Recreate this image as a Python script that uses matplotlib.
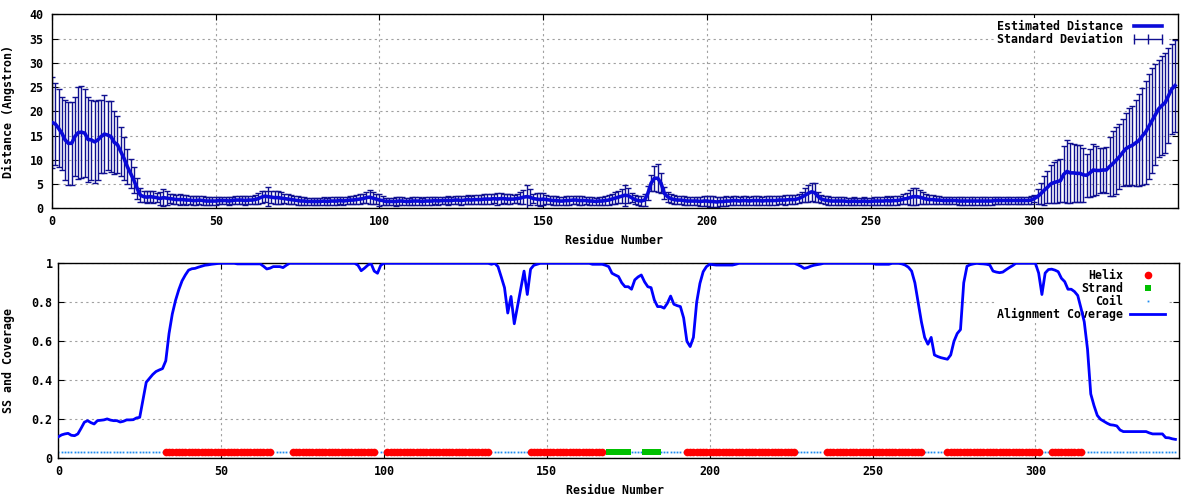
import numpy as np
import matplotlib
matplotlib.use('Agg')
import matplotlib.pyplot as plt
from matplotlib.lines import Line2D

# ---------------- data ----------------
distance = [
    # 0-28
    17.7, 17.4, 16.5, 15.5, 14.1, 13.4, 13.4, 14.8, 15.6, 15.7, 15.5, 14.2, 14.1, 13.7, 14.1,
    14.8, 15.3, 15.1, 14.8, 13.6, 13.1, 11.7, 10.3, 8.6, 7.2, 5.8, 4.1, 2.7, 2.4,
    # 29-62
    2.3, 2.4, 2.3, 2.2, 2.0, 2.2, 2.1, 2.0, 1.9, 1.8, 1.8, 1.8, 1.7, 1.7, 1.6, 1.6, 1.7,
    1.6, 1.5, 1.5, 1.5, 1.5, 1.6, 1.6, 1.6, 1.5, 1.6, 1.7, 1.7, 1.7, 1.6, 1.7, 1.7, 1.8,
    # 63-75
    2.0, 2.3, 2.5, 2.4, 2.3, 2.2, 2.2, 2.1, 2.0, 1.9, 1.8, 1.7, 1.6,
    # 76-92
    1.5, 1.5, 1.4, 1.4, 1.4, 1.4, 1.4, 1.5, 1.4, 1.5, 1.5, 1.5, 1.6, 1.5, 1.6, 1.7, 1.7,
    # 93-101
    1.8, 1.9, 2.0, 2.2, 2.3, 2.1, 1.9, 1.7, 1.6,
    # 102-140
    1.4, 1.4, 1.4, 1.4, 1.5, 1.5, 1.4, 1.4, 1.5, 1.5, 1.5, 1.4, 1.5, 1.5, 1.5, 1.6, 1.5,
    1.6, 1.6, 1.6, 1.6, 1.7, 1.7, 1.6, 1.7, 1.8, 1.7, 1.8, 1.8, 1.8, 1.9, 1.9, 1.9, 2.0,
    1.9, 2.0, 2.0, 1.9, 1.9,
    # 141-150
    1.9, 2.0, 2.1, 2.3, 2.4, 2.3, 2.0, 1.9, 1.8, 1.9,
    # 151-168
    1.8, 1.7, 1.6, 1.6, 1.5, 1.5, 1.6, 1.6, 1.7, 1.7, 1.6, 1.6, 1.6, 1.5, 1.5, 1.4, 1.5, 1.5,
    # 169-181
    1.6, 1.7, 1.9, 2.1, 2.3, 2.5, 2.7, 2.6, 2.2, 1.8, 1.6, 1.5, 1.7,
    # 182-189
    3.1, 5.2, 6.2, 6.2, 5.2, 3.1, 2.4, 2.0,
    # 190-226
    1.8, 1.7, 1.7, 1.6, 1.5, 1.5, 1.5, 1.5, 1.4, 1.5, 1.5, 1.4, 1.4, 1.3, 1.4, 1.4, 1.5,
    1.5, 1.6, 1.6, 1.5, 1.6, 1.6, 1.5, 1.6, 1.6, 1.6, 1.5, 1.6, 1.6, 1.6, 1.6, 1.7, 1.7,
    1.7, 1.8, 1.8,
    # 227-236
    1.8, 2.0, 2.3, 2.7, 3.1, 3.4, 3.2, 2.4, 1.9, 1.7,
    # 237-258
    1.6, 1.5, 1.5, 1.5, 1.5, 1.5, 1.4, 1.4, 1.5, 1.4, 1.4, 1.5, 1.4, 1.4, 1.5, 1.5, 1.5,
    1.5, 1.6, 1.5, 1.6, 1.6,
    # 259-268
    1.7, 1.9, 2.0, 2.2, 2.4, 2.4, 2.3, 2.1, 1.9, 1.8,
    # 269-299
    1.8, 1.7, 1.7, 1.6, 1.6, 1.6, 1.6, 1.6, 1.5, 1.5, 1.5, 1.5, 1.5, 1.5, 1.5, 1.5, 1.5,
    1.5, 1.5, 1.6, 1.6, 1.6, 1.6, 1.6, 1.6, 1.6, 1.6, 1.6, 1.6, 1.6, 1.7,
    # 300-343
    2.0, 2.4, 3.0, 3.7, 4.3, 5.0, 5.3, 5.5, 5.7, 7.0, 7.6, 7.3, 7.3, 7.2, 7.2, 6.9, 6.8,
    7.3, 7.9, 7.8, 7.8, 7.9, 7.9, 8.6, 9.2, 9.9, 10.6, 11.5, 12.3, 12.7, 13.0, 13.5, 14.0,
    14.9, 15.7, 16.9, 18.1, 19.3, 20.5, 21.2, 21.8, 23.2, 24.6, 25.3,
]

std_dev = [
    # 0-28
    9.3, 8.4, 8.0, 7.5, 8.3, 8.5, 8.5, 8.2, 9.5, 9.5, 9.0, 8.7, 8.2, 8.5, 8.2,
    7.5, 8.0, 7.1, 7.3, 6.5, 5.9, 5.0, 4.5, 3.6, 3.0, 2.7, 2.1, 1.4, 1.2,
    # 29-62
    1.2, 1.1, 1.2, 1.0, 1.3, 1.7, 1.4, 1.0, 1.1, 1.0, 1.1, 1.0, 1.0, 0.9, 1.0, 1.0, 0.9,
    0.9, 0.8, 0.9, 0.9, 0.8, 0.8, 0.8, 0.8, 0.9, 0.8, 0.8, 0.8, 0.9, 0.9, 0.9, 0.9, 0.9,
    # 63-75
    1.2, 1.3, 1.1, 2.0, 1.2, 1.4, 1.3, 1.2, 1.0, 1.0, 1.0, 0.9, 0.9,
    # 76-92
    0.8, 0.8, 0.8, 0.8, 0.8, 0.8, 0.8, 0.8, 0.8, 0.8, 0.8, 0.8, 0.8, 0.9, 0.8, 0.8, 0.9,
    # 93-101
    0.9, 1.0, 1.0, 1.1, 1.4, 1.2, 1.0, 1.2, 0.9,
    # 102-140
    0.8, 0.8, 0.8, 0.9, 0.8, 0.8, 0.8, 0.8, 0.8, 0.8, 0.9, 0.8, 0.8, 0.8, 0.8, 0.8, 0.9,
    0.8, 0.8, 0.9, 0.8, 0.9, 0.9, 0.9, 0.9, 0.9, 0.9, 1.0, 0.9, 1.0, 1.0, 1.0, 1.0, 1.0,
    1.2, 1.1, 1.0, 1.0, 1.0,
    # 141-150
    0.9, 1.0, 1.2, 1.5, 2.5, 1.7, 1.0, 1.2, 1.3, 1.2,
    # 151-168
    1.0, 0.9, 0.9, 0.9, 0.8, 0.8, 0.9, 0.9, 0.9, 0.9, 0.9, 0.9, 0.8, 0.8, 0.8, 0.8, 0.8, 0.9,
    # 169-181
    0.9, 1.0, 1.1, 1.2, 1.3, 1.5, 2.2, 1.5, 1.0, 1.0, 1.0, 1.1, 1.2,
    # 182-189
    1.4, 1.6, 2.6, 2.9, 2.1, 1.2, 1.0, 1.0,
    # 190-226
    1.0, 0.9, 0.9, 0.9, 0.9, 0.9, 0.9, 0.9, 1.0, 1.0, 1.1, 1.1, 1.1, 1.1, 1.0, 1.0, 1.0,
    0.9, 0.9, 1.0, 0.9, 0.9, 0.9, 0.9, 0.9, 0.9, 0.9, 0.9, 0.9, 0.9, 0.9, 0.9, 0.9, 0.9,
    1.0, 1.0, 1.0,
    # 227-236
    0.9, 1.0, 1.1, 1.4, 1.7, 1.8, 2.0, 1.0, 0.9, 0.9,
    # 237-258
    0.9, 0.8, 0.8, 0.8, 0.8, 0.8, 0.8, 0.8, 0.8, 0.8, 0.8, 0.8, 0.8, 0.8, 0.8, 0.8, 0.8,
    0.8, 0.9, 0.8, 0.9, 0.9,
    # 259-268
    0.9, 1.0, 1.2, 1.5, 1.7, 1.8, 1.4, 1.2, 1.0, 0.9,
    # 269-299
    0.9, 0.9, 0.8, 0.8, 0.8, 0.8, 0.8, 0.8, 0.8, 0.8, 0.8, 0.8, 0.8, 0.8, 0.8, 0.8, 0.8,
    0.8, 0.8, 0.8, 0.8, 0.8, 0.8, 0.8, 0.8, 0.8, 0.8, 0.8, 0.8, 0.8, 0.8,
    # 300-343
    0.7, 1.5, 2.2, 3.0, 3.3, 4.0, 4.3, 4.4, 4.5, 5.8, 6.5, 6.2, 6.0, 5.9, 5.9, 5.5, 4.4,
    5.0, 5.3, 5.0, 4.7, 4.5, 4.8, 6.0, 6.7, 6.9, 6.7, 7.0, 7.4, 8.0, 8.1, 8.8, 9.5,
    10.0, 10.6, 10.8, 10.9, 10.4, 10.0, 10.2, 10.3, 9.8, 9.2, 9.5,
]

coverage = [
    0.11, 0.12, 0.125, 0.128, 0.118, 0.116, 0.125, 0.154, 0.185, 0.193,
    0.183, 0.176, 0.193, 0.195, 0.197, 0.202, 0.196, 0.193, 0.193, 0.186,
    0.19, 0.197, 0.197, 0.198, 0.207, 0.21, 0.30, 0.39, 0.41, 0.43,
    0.445, 0.453, 0.46, 0.50, 0.64, 0.74, 0.81, 0.865, 0.91, 0.94,
    0.965, 0.972, 0.974, 0.98, 0.985, 0.99, 0.992, 0.995, 0.997, 0.999,
    1, 1, 1, 1, 1, 0.997, 0.997, 0.997, 0.997, 0.997,
    0.997, 0.997, 0.997, 0.985, 0.971, 0.975, 0.983, 0.983, 0.983, 0.978,
    0.99, 1, 1, 1, 1, 1, 1, 1, 1, 1,
    1, 1, 1, 1, 1, 1, 1, 1, 1, 1,
    1, 1, 0.99, 0.962, 0.975, 0.99, 1.0, 0.96, 0.949, 0.99,
    1, 1, 1, 1, 1, 1, 1, 1, 1, 1,
    1, 1, 1, 1, 1, 1, 1, 1, 1, 1,
    1, 1, 1, 1, 1, 1, 1, 1, 1, 1,
    1, 1, 1, 0.995, 1.0, 0.983, 0.93, 0.875, 0.745, 0.83,
    0.69, 0.78, 0.87, 0.96, 0.84, 0.97, 0.99, 0.995, 1, 1,
    1, 1, 1, 1, 1, 1, 1, 1, 1, 1,
    1, 1, 1, 1, 0.995, 0.995, 0.995, 0.995, 0.99, 0.983,
    0.949, 0.94, 0.932, 0.90, 0.88, 0.88, 0.867, 0.915, 0.93, 0.94,
    0.905, 0.88, 0.875, 0.812, 0.778, 0.778, 0.77, 0.795, 0.832, 0.79,
    0.783, 0.778, 0.72, 0.60, 0.573, 0.62, 0.80, 0.897, 0.957, 0.983,
    0.995, 0.993, 0.991, 0.991, 0.991, 0.991, 0.991, 0.991, 0.995, 1,
    1, 1, 1, 1, 1, 1, 1, 1, 1, 1,
    1, 1, 1, 1, 1, 1, 1, 0.993, 0.985, 0.974,
    0.978, 0.985, 0.99, 0.993, 0.996, 1, 1, 1, 1, 1,
    1, 1, 1, 1, 1, 1, 1, 1, 1, 1,
    1, 0.995, 0.995, 0.995, 0.995, 0.995, 1, 1, 1, 0.997,
    0.991, 0.98, 0.96, 0.90, 0.80, 0.70, 0.62, 0.585, 0.62, 0.53,
    0.522, 0.516, 0.512, 0.508, 0.53, 0.60, 0.64, 0.66, 0.90, 0.985,
    0.993, 0.997, 1, 0.998, 0.997, 0.995, 0.991, 0.96, 0.955, 0.952,
    0.955, 0.967, 0.978, 0.988, 1, 1, 1, 1, 1, 1,
    1, 0.95, 0.84, 0.95, 0.968, 0.97, 0.965, 0.957, 0.923, 0.906,
    0.867, 0.867, 0.855, 0.835, 0.77, 0.70, 0.56, 0.33, 0.27, 0.22,
    0.20, 0.19, 0.18, 0.172, 0.17, 0.166, 0.145, 0.137, 0.137, 0.137,
    0.137, 0.137, 0.137, 0.137, 0.137, 0.13, 0.125, 0.125, 0.125, 0.125,
    0.106, 0.105, 0.10, 0.097,
]

helix_segments = [(33, 65), (72, 97), (101, 132), (145, 167), (193, 226),
                  (236, 265), (273, 301), (305, 314)]
strand_segments = [(169, 175), (180, 184)]
ss_level = 0.03

x_ticks = [0, 50, 100, 150, 200, 250, 300]
y_ticks_top = [0, 5, 10, 15, 20, 25, 30, 35, 40]
y_ticks_bottom = [0, 0.2, 0.4, 0.6, 0.8, 1]
y_labels_bottom = ['0', '0.2', '0.4', '0.6', '0.8', '1']

# ---------------- figure ----------------
plt.rcParams['font.family'] = ['DejaVu Sans Mono']
plt.rcParams['font.weight'] = 'bold'
FS = 8.4

LINE_BLUE = '#0a0ad8'
ERR_BLUE = '#101090'
COV_BLUE = '#0000ff'
RED = '#ff0000'
GREEN = '#00c000'
COIL = '#1e8cf0'

fig = plt.figure(figsize=(12, 5), dpi=100)
ax1 = fig.add_axes([52 / 1200, 1 - 208.3 / 500, 1126.3 / 1200, 194 / 500])
ax2 = fig.add_axes([58.3 / 1200, 1 - 458.3 / 500, 1120.4 / 1200, 195 / 500])

grid_kw = dict(color='#a0a0a0', linestyle=(0, (2, 3)), linewidth=0.8)

for ax in (ax1, ax2):
    ax.set_axisbelow(True)
    ax.grid(True, **grid_kw)
    ax.tick_params(direction='in', top=True, right=True, length=4.5, width=0.8,
                   labelsize=FS, colors='black')
    for sp in ax.spines.values():
        sp.set_linewidth(1.0)
        sp.set_color('black')

# ---- top panel ----
res_d = np.arange(len(distance))
ax1.errorbar(res_d, distance, yerr=std_dev, fmt='none', ecolor=ERR_BLUE,
             elinewidth=1.0, capsize=2.3, capthick=1.0, zorder=2)
ax1.plot(res_d, distance, color=LINE_BLUE, lw=2.6, zorder=3)
ax1.set_xlim(0, 344)
ax1.set_ylim(0, 40)
ax1.set_xticks(x_ticks)
ax1.set_yticks(y_ticks_top)
ax1.set_xticklabels([str(t) for t in x_ticks])
ax1.set_yticklabels([str(t) for t in y_ticks_top])
ax1.tick_params(axis='x', pad=5)
ax1.tick_params(axis='y', pad=6)
ax1.set_xlabel('Residue Number', fontsize=FS, fontweight='bold')
ax1.set_ylabel('Distance (Angstron)', fontsize=FS, fontweight='bold')
ax1.xaxis.set_label_coords(0.499, -0.135)
ax1.yaxis.set_label_coords(-0.0325, 0.5)

h_top = [Line2D([], [], color=LINE_BLUE, lw=2.6),
         Line2D([], [], color=ERR_BLUE, lw=1.0, marker='|', markersize=7, mew=1.0)]
leg1 = ax1.legend(h_top, ['Estimated Distance', 'Standard Deviation'],
                  loc='upper right', bbox_to_anchor=(0.9903, 0.983), borderaxespad=0,
                  markerfirst=False, numpoints=3, frameon=True, framealpha=1,
                  facecolor='white', edgecolor='none', fancybox=False,
                  fontsize=FS, handlelength=3.0, handletextpad=0.6,
                  labelspacing=0.0, borderpad=0.2)
leg1.set_zorder(1.5)

# ---- bottom panel ----
res_c = np.arange(len(coverage))
n_res = len(coverage)
ss_type = np.array(['C'] * n_res)
for a, b in helix_segments:
    ss_type[a:b + 1] = 'H'
for a, b in strand_segments:
    ss_type[a:b + 1] = 'E'
coil_x = res_c[ss_type == 'C']
helix_x = res_c[ss_type == 'H']
strand_x = res_c[ss_type == 'E']

ax2.plot(coil_x, np.full(len(coil_x), ss_level), ls='none', marker='s', ms=1.3,
         mew=0, color=COIL, zorder=2.4)
ax2.plot(helix_x, np.full(len(helix_x), ss_level), ls='none', marker='o', ms=5.5,
         mew=0, color=RED, zorder=2.5)
ax2.plot(strand_x, np.full(len(strand_x), ss_level), ls='none', marker='s', ms=5.0,
         mew=0, color=GREEN, zorder=2.5)
ax2.plot(res_c, coverage, color=COV_BLUE, lw=2.0, zorder=3)
ax2.set_xlim(0, 344)
ax2.set_ylim(0, 1)
ax2.set_xticks(x_ticks)
ax2.set_xticklabels([str(t) for t in x_ticks])
ax2.set_yticks(y_ticks_bottom)
ax2.set_yticklabels(y_labels_bottom)
ax2.tick_params(axis='x', pad=5)
ax2.tick_params(axis='y', pad=4)
ax2.set_xlabel('Residue Number', fontsize=FS, fontweight='bold')
ax2.set_ylabel('SS and Coverage', fontsize=FS, fontweight='bold')
ax2.xaxis.set_label_coords(0.497, -0.134)
ax2.yaxis.set_label_coords(-0.0385, 0.5)

h_bot = [Line2D([], [], ls='none', marker='o', ms=5.5, mew=0, color=RED),
         Line2D([], [], ls='none', marker='s', ms=5.0, mew=0, color=GREEN),
         Line2D([], [], ls='none', marker='s', ms=1.3, mew=0, color=COIL),
         Line2D([], [], color=COV_BLUE, lw=2.0)]
leg2 = ax2.legend(h_bot, ['Helix', 'Strand', 'Coil', 'Alignment Coverage'],
                  loc='upper right', bbox_to_anchor=(0.9899, 0.983), borderaxespad=0,
                  markerfirst=False, numpoints=1, frameon=True, framealpha=1,
                  facecolor='white', edgecolor='none', fancybox=False,
                  fontsize=FS, handlelength=3.0, handletextpad=0.6,
                  labelspacing=0.0, borderpad=0.2)
leg2.set_zorder(1.5)

fig.savefig('out.png', dpi=100, facecolor='white')
